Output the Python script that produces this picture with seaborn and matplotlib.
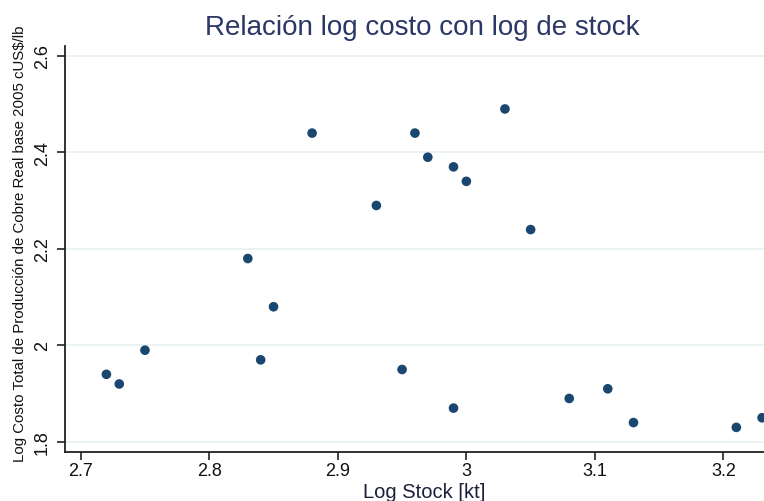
import matplotlib
matplotlib.use("Agg")
import matplotlib.pyplot as plt
import seaborn as sns
import pandas as pd

# Log stock (kt) and log total production cost (cUS$/lb, real 2005 base)
log_stock = [2.72, 2.73, 2.75, 2.83, 2.84, 2.85, 2.88, 2.93, 2.95, 2.96, 2.97,
             2.99, 3.00, 2.99, 3.03, 3.05, 3.08, 3.11, 3.13, 3.21, 3.23]
log_costo = [1.94, 1.92, 1.99, 2.18, 1.97, 2.08, 2.44, 2.29, 1.95, 2.44, 2.39,
             2.37, 2.34, 1.87, 2.49, 2.24, 1.89, 1.91, 1.84, 1.83, 1.85]

x_ticks = [2.7, 2.8, 2.9, 3.0, 3.1, 3.2]
x_tick_labels = ["2.7", "2.8", "2.9", "3", "3.1", "3.2"]
y_ticks = [1.8, 2.0, 2.2, 2.4, 2.6]
y_tick_labels = ["1.8", "2", "2.2", "2.4", "2.6"]

titulo = "Relación log costo con log de stock"
etiqueta_x = "Log Stock [kt]"
etiqueta_y = "Log Costo Total de Producción de Cobre Real base 2005 cUS$/lb"

df = pd.DataFrame({"stock": log_stock, "costo": log_costo})

sns.set_theme(style="white")
plt.rcParams["font.family"] = ["Liberation Sans", "DejaVu Sans"]

fig = plt.figure(figsize=(7.64, 5.02), dpi=100)
ax = fig.add_axes([65 / 764, 1 - 453 / 502, 1 - 65 / 764 + 0.002, (453 - 47) / 502])

# Stata-like light gridlines
for yv in y_ticks:
    ax.axhline(yv, color="#e8f0f2", lw=1.2, zorder=0)

sns.scatterplot(data=df, x="stock", y="costo", ax=ax, color="#1a476f",
                s=48, edgecolor="none", zorder=3, clip_on=True)

ax.set_xlim(2.6878, 3.2327)
ax.set_ylim(1.779, 2.6205)
ax.set_xticks(x_ticks)
ax.set_xticklabels(x_tick_labels)
ax.set_yticks(y_ticks)
ax.set_yticklabels(y_tick_labels, rotation=90, va="center")

for side in ["top", "right"]:
    ax.spines[side].set_visible(False)
for side in ["left", "bottom"]:
    ax.spines[side].set_color("#222222")
    ax.spines[side].set_linewidth(1.3)

ax.tick_params(axis="x", direction="out", length=6, width=1.2, color="#222222",
               labelsize=13, pad=1.5, labelcolor="#111111", bottom=True)
ax.tick_params(axis="y", direction="out", length=6, width=1.2, color="#222222",
               labelsize=13, pad=4, labelcolor="#111111", left=True)

ax.set_xlabel("")
ax.set_ylabel("")
fig.text(424 / 764, 1 - 493 / 502, etiqueta_x, ha="center", va="center",
         fontsize=14.5, color="#1c1f3a",
         family=["Liberation Sans Narrow", "Liberation Sans", "DejaVu Sans"])
fig.text(20 / 764, 1 - 244 / 502, etiqueta_y, ha="center", va="center",
         rotation=90, fontsize=10.8, color="#111111",
         family=["Liberation Sans Narrow", "Liberation Sans", "DejaVu Sans"])
fig.text(422 / 764, 1 - 28 / 502, titulo, ha="center", va="center",
         fontsize=20, color="#2b3766")

fig.savefig("out.png", dpi=100, facecolor="white")
